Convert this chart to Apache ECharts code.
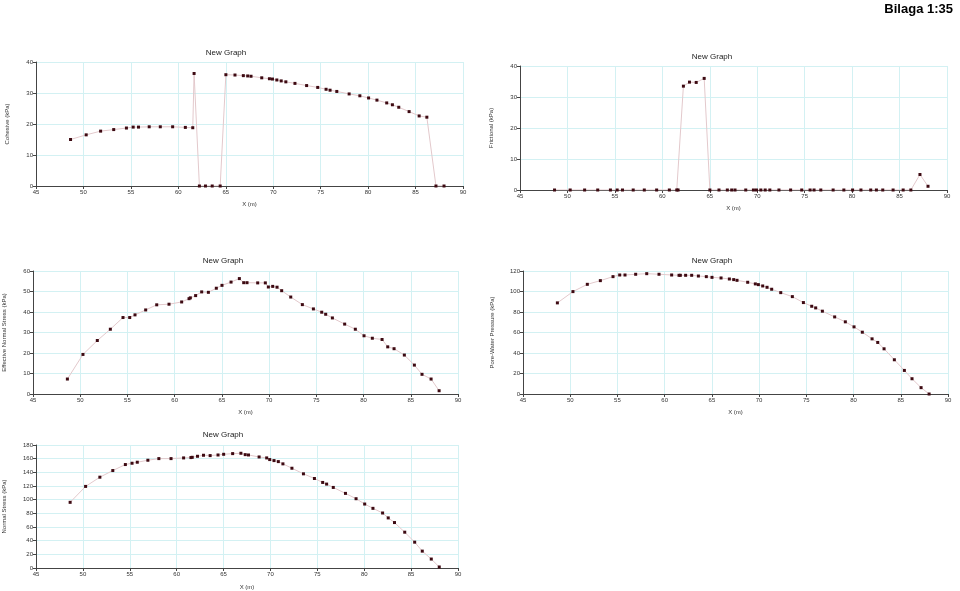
<!DOCTYPE html>
<html>
<head>
<meta charset="utf-8">
<script src="https://cdn.jsdelivr.net/npm/echarts@6/dist/echarts.min.js"></script>
<style>
  html, body { margin: 0; padding: 0; background: #fff; }
  #main { width: 960px; height: 591px; }
</style>
</head>
<body>
<div id="main"></div>
<script>
// slice x positions (m)
const xSlices = [48.64, 50.29, 51.81, 53.19, 54.53, 55.24, 55.80, 56.93, 58.10, 59.40,
  60.74, 61.52, 61.66, 62.22, 62.86, 63.57, 64.41, 65.01, 65.97, 66.85,
  67.31, 67.66, 68.79, 69.60, 69.92, 70.38, 70.84, 71.33, 72.29, 73.52,
  74.69, 75.57, 75.99, 76.70, 78.00, 79.13, 80.05, 80.93, 81.96, 82.56,
  83.23, 84.32, 85.38, 86.19, 87.15, 88.00]

const cohesive = [15.0, 16.5, 17.7, 18.2, 18.7, 19.0, 19.0, 19.1, 19.1, 19.1,
  18.9, 18.8, 36.3, 0, 0, 0, 0, 35.9, 35.8, 35.6,
  35.5, 35.4, 34.9, 34.6, 34.5, 34.2, 33.9, 33.6, 33.1, 32.4,
  31.8, 31.2, 30.9, 30.5, 29.7, 29.1, 28.4, 27.7, 26.8, 26.2,
  25.4, 24.0, 22.6, 22.2, 0, 0]

const frictional = [0, 0, 0, 0, 0, 0, 0, 0, 0, 0,
  0, 0, 0, 33.5, 34.8, 34.7, 36.0, 0, 0, 0,
  0, 0, 0, 0, 0, 0, 0, 0, 0, 0,
  0, 0, 0, 0, 0, 0, 0, 0, 0, 0,
  0, 0, 0, 0, 5.0, 1.2]

const effective = [7.3, 19.3, 26.1, 31.6, 37.3, 37.3, 38.6, 41.0, 43.5, 43.8,
  44.9, 46.5, 46.9, 48.0, 49.8, 49.6, 51.6, 53.0, 54.6, 56.3,
  54.3, 54.3, 54.2, 54.2, 52.2, 52.5, 52.1, 50.4, 47.3, 43.6,
  41.5, 39.9, 38.9, 37.1, 34.1, 31.6, 28.4, 27.2, 26.6, 23.0,
  22.1, 19.0, 14.1, 9.6, 7.3, 1.6]

const pore = [88.9, 99.9, 107.0, 110.6, 114.5, 116.1, 116.1, 116.8, 117.4, 116.8,
  116.1, 115.8, 115.8, 115.8, 115.8, 115.1, 114.5, 113.8, 113.2, 112.2,
  111.6, 110.9, 109.0, 107.4, 106.7, 105.4, 104.1, 102.2, 98.9, 95.0,
  89.2, 85.6, 84.0, 80.8, 75.2, 70.4, 65.5, 60.3, 53.8, 50.3,
  44.1, 33.4, 23.0, 14.9, 6.2, 0]

const normal = [96.1, 119.4, 132.9, 142.6, 151.4, 153.3, 154.8, 157.7, 160.1, 160.1,
  161.1, 161.6, 162.0, 163.5, 165.0, 164.5, 165.4, 166.4, 167.4, 167.9,
  165.9, 165.4, 162.5, 161.1, 158.7, 157.2, 155.7, 152.4, 146.0, 137.8,
  131.0, 125.2, 122.8, 117.9, 109.2, 101.4, 93.6, 87.3, 80.5, 73.3,
  66.5, 52.4, 37.8, 24.7, 13.1, 1.5]

const panels = [
  { name: 'Cohesive (kPa)', values: cohesive, max: 40, interval: 10,
    grid: { left: 36, top: 62, width: 427, height: 124 }, titleX: 221, titleY: 44, nameGap: 15, yNameGap: 26 },
  { name: 'Frictional (kPa)', values: frictional, max: 40, interval: 10,
    grid: { left: 520, top: 66, width: 427, height: 124 }, titleX: 707, titleY: 48, nameGap: 15, yNameGap: 26 },
  { name: 'Effective Normal Stress (kPa)', values: effective, max: 60, interval: 10,
    grid: { left: 31, top: 271, width: 427, height: 123 }, titleX: 218, titleY: 252, nameGap: 15, yNameGap: 26 },
  { name: 'Pore-Water Pressure (kPa)', values: pore, max: 120, interval: 20,
    grid: { left: 523, top: 271, width: 425, height: 123 }, titleX: 707, titleY: 252, nameGap: 15, yNameGap: 28 },
  { name: 'Normal Stress (kPa)', values: normal, max: 180, interval: 20,
    grid: { left: 34, top: 445, width: 424, height: 123 }, titleX: 218, titleY: 426, nameGap: 16, yNameGap: 29 }
]

const font = 'Liberation Sans, Arial, sans-serif'
const chart = echarts.init(document.getElementById('main'))

const option = {
  animation: false,
  backgroundColor: '#fff',
  title: [{
    text: 'Bilaga 1:35',
    right: 2, top: -2,
    textStyle: { fontFamily: font, fontSize: 13, fontWeight: 'bold', color: '#000' }
  }].concat(panels.map(p => ({
    text: 'New Graph',
    left: p.titleX, top: p.titleY,
    textAlign: 'center',
    textStyle: { fontFamily: font, fontSize: 8, fontWeight: 'normal', color: '#222' }
  }))),
  grid: panels.map(p => p.grid),
  xAxis: panels.map((p, i) => ({
    type: 'value',
    gridIndex: i,
    min: 45, max: 90, interval: 5,
    name: 'X (m)',
    nameLocation: 'middle',
    nameGap: p.nameGap,
    nameTextStyle: { fontFamily: font, fontSize: 6, color: '#333' },
    axisLine: { onZero: false, lineStyle: { color: '#444', width: 1 } },
    axisTick: { show: true, length: 3, lineStyle: { color: '#444' } },
    axisLabel: { fontFamily: font, fontSize: 6, color: '#333', margin: 3 },
    splitLine: { show: true, lineStyle: { color: '#d3f1f3', width: 1 } }
  })),
  yAxis: panels.map((p, i) => ({
    type: 'value',
    gridIndex: i,
    min: 0, max: p.max, interval: p.interval,
    name: p.name,
    nameLocation: 'middle',
    nameGap: p.yNameGap,
    nameRotate: 90,
    nameTextStyle: { fontFamily: font, fontSize: 6, color: '#333' },
    axisLine: { show: true, lineStyle: { color: '#444', width: 1 } },
    axisTick: { show: true, length: 3, lineStyle: { color: '#444' } },
    axisLabel: { fontFamily: font, fontSize: 6, color: '#333', margin: 3 },
    splitLine: { show: true, lineStyle: { color: '#d3f1f3', width: 1 } }
  })),
  series: panels.map((p, i) => ({
    type: 'line',
    xAxisIndex: i,
    yAxisIndex: i,
    data: xSlices.map((x, k) => [x, p.values[k]]),
    symbol: 'rect',
    symbolSize: 3,
    showAllSymbol: true,
    itemStyle: { color: '#3d0a12' },
    lineStyle: { color: '#e3c9cc', width: 1 },
    z: 3
  }))
}

chart.setOption(option)
</script>
</body>
</html>
